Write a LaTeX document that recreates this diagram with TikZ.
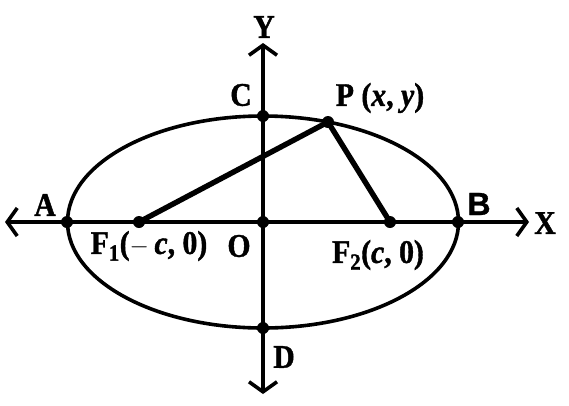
\documentclass[tikz,border=0pt]{standalone}
\usepackage{fontspec}
\setmainfont{Liberation Serif}[BoldFeatures={FakeStretch=0.9,FakeBold=1.2},BoldItalicFeatures={FakeStretch=0.9,FakeBold=1.2}]
\newfontfamily\sansb{Liberation Sans}[BoldFeatures={FakeBold=1}]
\usetikzlibrary{arrows.meta}
\begin{document}
\begin{tikzpicture}[x=1pt,y=-1pt,
  axis/.style={line width=3.6pt,-{Straight Barb[length=10pt,width=28pt,line width=3.6pt]}},
  curve/.style={line width=3.6pt},
  seg/.style={line width=5.4pt},
  lbl/.style={font=\fontsize{33}{33}\selectfont\bfseries, inner sep=0pt},
  dot/.style={circle, fill=black, inner sep=0pt, minimum size=12pt}]
\useasboundingbox (0,0) rectangle (569,405);
\coordinate (O) at (263,222);
\coordinate (L) at (5,222);
\coordinate (R) at (529,222);
\coordinate (T) at (263,43);
\coordinate (Bt) at (263,394);
\coordinate (F1) at (139,222);
\coordinate (F2) at (390,222);
\coordinate (P) at (328,122);
\coordinate (A) at (67,222);
\coordinate (B) at (458,222);
\coordinate (C) at (263,116);
\coordinate (D) at (263,328);
\draw[curve] (O) ellipse [x radius=195.5pt, y radius=106pt];
\draw[axis] (O) -- (L);
\draw[axis] (O) -- (R);
\draw[axis] (O) -- (T);
\draw[axis] (O) -- (Bt);
\draw[seg, line cap=round] (F1) -- (P) -- (F2);
\foreach \p in {O,F1,F2,P,A,B,C,D} \node[dot] at (\p) {};
\node[lbl] (ly) at (264,27) {Y};
\node[lbl] (lx) at (545,223) {X};
\node[lbl] (lc) at (241,95) {C};
\node[lbl] (lp) at (380,98) {P (\textit{x}, \textit{y})};
\node[inner sep=0pt, font=\sansb\fontsize{32}{32}\selectfont\bfseries] (lb) at (479,204) {B};
\node[lbl] (la) at (45,205) {A};
\node[lbl] (lf1) at (149,246) {F\textsubscript{1}($-$\,\textit{c}, 0)};
\node[lbl] (lo) at (239,246) {O};
\node[lbl] (lf2) at (378,255) {F\textsubscript{2}(\textit{c}, 0)};
\node[lbl] (ld) at (284,357) {D};
\end{tikzpicture}
\end{document}
